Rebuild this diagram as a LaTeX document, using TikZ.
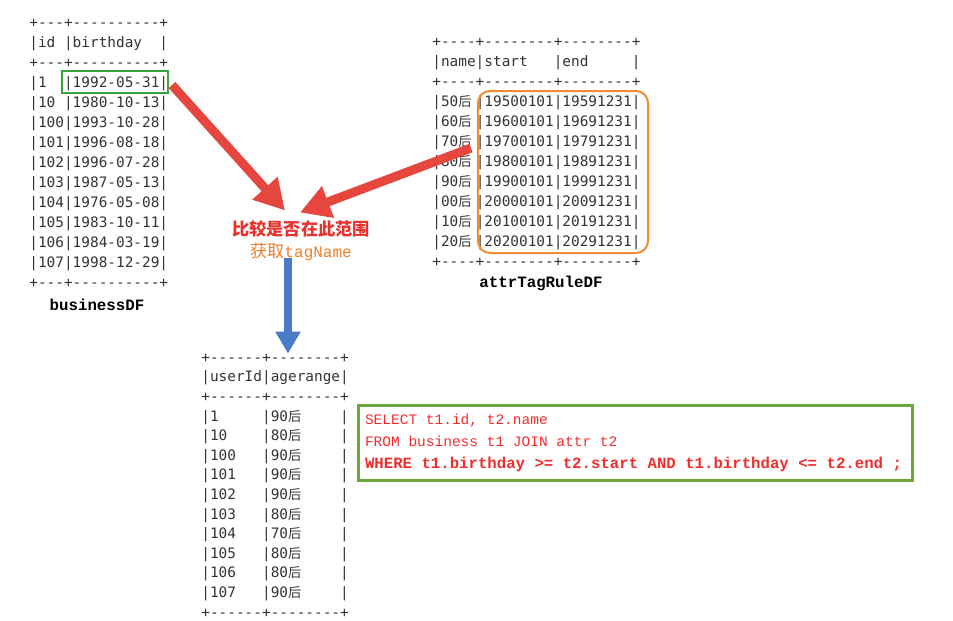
\documentclass[tikz,border=0pt]{standalone}
\usepackage{fontspec}
\setmonofont{DejaVu Sans Mono}
\newfontfamily\cjk{Noto Sans CJK SC}
\newfontfamily\sqlfont{Liberation Mono}
\usetikzlibrary{arrows.meta,positioning,calc}
\definecolor{tabtext}{HTML}{333333}
\definecolor{hlgreen}{HTML}{3BA53B}
\definecolor{hlorange}{HTML}{F28C33}
\definecolor{sqlgreen}{HTML}{6BA83A}
\definecolor{sqlred}{HTML}{F02D2D}
\definecolor{arrred}{HTML}{E5473F}
\definecolor{arrblue}{HTML}{4A7BC8}
\definecolor{cmpred}{HTML}{E8312C}
\definecolor{cmporange}{HTML}{F07F2A}
\newcommand\hou{\makebox[1.204em][l]{\cjk\fontsize{6.6}{10}\selectfont 后}}
\newcommand\monosp{\spaceskip=0.6em\relax}
\tikzset{
  tbl/.style={anchor=base west, inner sep=0pt, align=left, text=tabtext,
    font=\ttfamily\fontsize{7.2}{10}\selectfont},
  tblname/.style={inner sep=0pt, text=black, font=\sqlfont\bfseries\fontsize{7.9}{10}\selectfont},
  redarr/.style={-{Triangle[length=15pt,width=16pt]}, line width=4.5pt, draw=arrred},
}
\begin{document}
\begin{tikzpicture}[x=0.5pt, y=-0.5pt,
  hlbox/.style={draw=hlgreen, line width=1pt, inner sep=0pt},
  rulebox/.style={draw=hlorange, line width=1pt, rounded corners=6pt, inner sep=0pt},
  cmp/.style={inner sep=0pt, align=center, font=\cjk\fontsize{8.6}{11}\selectfont},
  sqlbox/.style={draw=sqlgreen, line width=1.5pt, minimum width=277pt, minimum height=37.5pt,
    text width=270pt, inner xsep=3.5pt, align=left, text=sqlred,
    font=\sqlfont\fontsize{7.25}{11}\selectfont},
  bluearr/.style={-{Triangle[length=11pt,width=12pt]}, line width=4pt, draw=arrblue},
]
  \useasboundingbox (0,0) rectangle (953,621);

  % input tables (node sits on the baseline of the last line)
  \node[tbl] (biz) at (29,287) {+---+----------+\\
    |id~|birthday~~|\\
    +---+----------+\\
    |1~~|1992-05-31|\\
    |10~|1980-10-13|\\
    |100|1993-10-28|\\
    |101|1996-08-18|\\
    |102|1996-07-28|\\
    |103|1987-05-13|\\
    |104|1976-05-08|\\
    |105|1983-10-11|\\
    |106|1984-03-19|\\
    |107|1998-12-29|\\
    +---+----------+};
  \node[tblname] (bizname) at (97,305) {businessDF};

  \node[tbl] (rule) at (432,266) {+----+--------+--------+\\
    |name|start~~~|end~~~~~|\\
    +----+--------+--------+\\
    |50\hou|19500101|19591231|\\
    |60\hou|19600101|19691231|\\
    |70\hou|19700101|19791231|\\
    |80\hou|19800101|19891231|\\
    |90\hou|19900101|19991231|\\
    |00\hou|20000101|20091231|\\
    |10\hou|20100101|20191231|\\
    |20\hou|20200101|20291231|\\
    +----+--------+--------+};
  \node[tblname] (rulename) at (541,283) {attrTagRuleDF};

  % highlights
  \node[hlbox, minimum width=53pt, minimum height=11pt] (bdbox) at (115,82) {};
  \node[rulebox, minimum width=85pt, minimum height=81pt] (orbox) at (563,172) {};

  % result
  \node[tbl, font=\ttfamily\fontsize{7.2}{9.8}\selectfont] (res) at (201,617) {+------+--------+\\
    |userId|agerange|\\
    +------+--------+\\
    |1~~~~~|90\hou~~~~|\\
    |10~~~~|80\hou~~~~|\\
    |100~~~|90\hou~~~~|\\
    |101~~~|90\hou~~~~|\\
    |102~~~|90\hou~~~~|\\
    |103~~~|80\hou~~~~|\\
    |104~~~|70\hou~~~~|\\
    |105~~~|80\hou~~~~|\\
    |106~~~|80\hou~~~~|\\
    |107~~~|90\hou~~~~|\\
    +------+--------+};

  \node[sqlbox] (sql) at (635,442.5) {\monosp SELECT t1.id, t2.name\\
    FROM business t1 JOIN attr t2\\
    {\bfseries\fontsize{7.85}{11}\selectfont\monosp WHERE t1.birthday >= t2.start AND t1.birthday <= t2.end ;}};

  \node[cmp] (cmp) at (301,241) {{\color{cmpred}\bfseries 比较是否在此范围}\\
    {\color{cmporange}获取{\sqlfont\fontsize{8}{11}\selectfont tagName}}};

  \draw[redarr] ([shift={(3,3)}]bdbox.east) -- ([shift={(-16,-10)}]cmp.north);
  \draw[redarr] ([shift={(-6,-24)}]orbox.west) -- ([shift={(-1,-8)}]cmp.north);
  \draw[bluearr] ([shift={(-13,-4)}]cmp.south) -- ([shift={(-13,0)}]cmp.south |- res.north);
\end{tikzpicture}
\end{document}
